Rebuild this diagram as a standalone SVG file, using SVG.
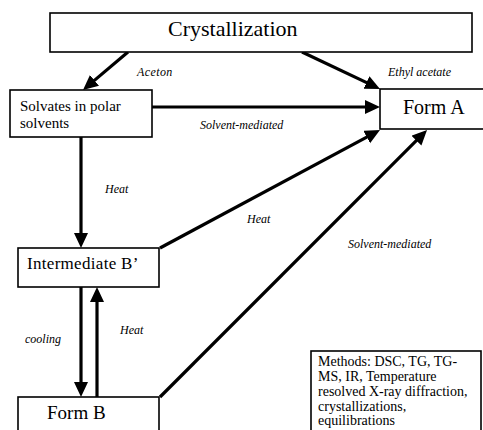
<svg xmlns="http://www.w3.org/2000/svg" width="483" height="430" viewBox="0 0 483 430" font-family="Liberation Serif, serif">
<defs>
<style>
.box{fill:#fff;stroke:#000;stroke-width:1.6}
.t{font-family:"Liberation Serif",serif;fill:#000}
.lab{font-family:"Liberation Serif",serif;font-style:italic;font-size:12px;fill:#000}
.c{stroke:#000;stroke-width:3.2;fill:none;marker-end:url(#ah)}
</style>
<marker id="ah" markerUnits="userSpaceOnUse" markerWidth="16" markerHeight="16" refX="9" refY="7" orient="auto">
<path d="M0,0 L15,7 L0,14 z" fill="#000"/>
</marker>
</defs>
<rect width="483" height="430" fill="#fff"/>
<g id="connectors">
<line class="c" x1="128" y1="52" x2="87.6" y2="86.1"/>
<line class="c" x1="302" y1="52" x2="374.6" y2="86.4"/>
<line class="c" x1="152" y1="107" x2="374" y2="107"/>
<line class="c" x1="81" y1="137" x2="81" y2="242"/>
<line class="c" x1="160" y1="248" x2="374.7" y2="132.8"/>
<line class="c" x1="160" y1="397" x2="422.8" y2="134.2"/>
<line class="c" x1="81" y1="287" x2="81" y2="391"/>
<line class="c" x1="97" y1="397" x2="97" y2="293"/>
</g>
<g id="labels">
<text class="lab" x="137" y="76" letter-spacing="0.4">Aceton</text>
<text class="lab" x="388" y="76">Ethyl acetate</text>
<text class="lab" x="200" y="129">Solvent-mediated</text>
<text class="lab" x="105" y="193">Heat</text>
<text class="lab" x="247" y="223">Heat</text>
<text class="lab" x="348" y="248">Solvent-mediated</text>
<text class="lab" x="25" y="343">cooling</text>
<text class="lab" x="120" y="334">Heat</text>
</g>
<g id="crystallization">
<rect class="box" x="50" y="13" width="422" height="39"/>
<text class="t" x="168" y="36" font-size="22">Crystallization</text>
</g>
<g id="solvates">
<rect class="box" x="10" y="90" width="142" height="47"/>
<text class="t" x="20" y="111" font-size="15">Solvates in polar</text>
<text class="t" x="20" y="128" font-size="15">solvents</text>
</g>
<g id="formA">
<rect class="box" x="380" y="89" width="110" height="40"/>
<text class="t" x="403" y="114" font-size="20">Form A</text>
</g>
<g id="intermediate">
<rect class="box" x="18" y="248" width="141" height="39"/>
<text class="t" x="27" y="269" font-size="17" letter-spacing="0.3">Intermediate B’</text>
</g>
<g id="formB">
<rect class="box" x="18" y="397" width="141" height="40"/>
<text class="t" x="47" y="419" font-size="19">Form B</text>
</g>
<g id="methods">
<rect class="box" x="311" y="351" width="170" height="90"/>
<text class="t" x="318" y="366" font-size="14">Methods: DSC, TG, TG-</text>
<text class="t" x="318" y="381" font-size="14">MS, IR, Temperature</text>
<text class="t" x="318" y="396" font-size="14">resolved X-ray diffraction,</text>
<text class="t" x="318" y="411" font-size="14">crystallizations,</text>
<text class="t" x="318" y="425" font-size="14">equilibrations</text>
</g>
</svg>
